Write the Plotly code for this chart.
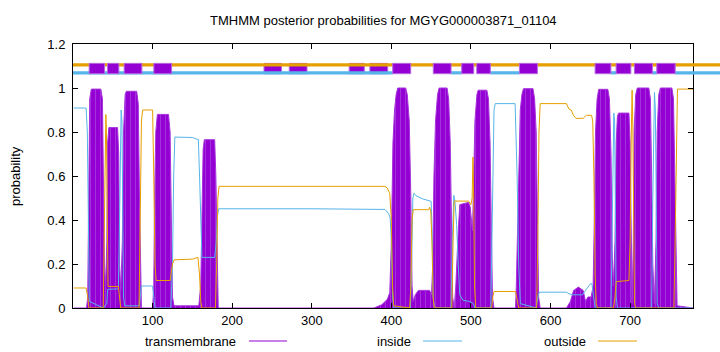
import plotly.graph_objects as go

# ---------------- data ----------------
TITLE = "TMHMM posterior probabilities for MGYG000003871_01104"
X_RANGE = [0, 779]
X_TICKS = [100, 200, 300, 400, 500, 600, 700]
Y_TICKS = [0, 0.2, 0.4, 0.6, 0.8, 1.0, 1.2]
Y_TICK_TEXT = ["0", "0.2", "0.4", "0.6", "0.8", "1", "1.2"]

# transmembrane posterior probability (residue, probability)
tm_res = [1, 17, 18.5, 19.5, 21, 23, 35, 37, 38.5, 39.5, 41,
          42.5, 43.5, 45, 56, 57.5, 58.5, 60,
          62, 63.5, 65.5, 67, 80, 82, 83.5, 85, 86, 100,
          101.5, 102.5, 104, 106, 120, 122, 123.5, 125, 127, 158,
          160.5, 162, 163.5, 165, 178, 179.5, 181, 182.5,
          378, 388, 395, 398,
          400, 402, 404, 406, 408, 418, 420, 422.5, 424.5, 426, 427.5,
          430, 434, 448, 450.5,
          452, 453.5, 455.5, 458, 460, 470, 472, 474, 475.5, 477, 479,
          481, 484, 486, 497, 499, 502, 503.5,
          505, 507.5, 509, 520, 522, 524, 525.5, 527, 529, 556,
          557, 558.5, 560, 562, 564, 566, 578, 580, 582, 583.5, 585, 587,
          620, 625, 629, 635, 641, 644, 647, 651, 653.5,
          655, 656.5, 658.5, 660.5, 672, 674, 676, 677.5, 679,
          681, 682.5, 684, 685.5, 698.5, 700, 701, 702.5,
          704, 705, 707, 709, 723.5, 725.5, 727, 728.5, 730.5,
          732.5, 734, 736, 738, 752.5, 754.5, 756, 757.5, 759, 779]
tm_prob = [0.0, 0.0, 0.05, 0.6, 0.95, 0.995, 0.995, 0.95, 0.6, 0.2, 0.1,
           0.3, 0.75, 0.82, 0.82, 0.7, 0.2, 0.08,
           0.3, 0.8, 0.97, 0.985, 0.985, 0.93, 0.5, 0.05, 0.0, 0.0,
           0.1, 0.5, 0.8, 0.88, 0.88, 0.8, 0.4, 0.05, 0.01, 0.01,
           0.1, 0.5, 0.72, 0.765, 0.765, 0.6, 0.2, 0.0,
           0.0, 0.015, 0.04, 0.07,
           0.3, 0.75, 0.9, 0.97, 1.0, 1.0, 0.97, 0.85, 0.5, 0.1, 0.03,
           0.06, 0.08, 0.08, 0.06,
           0.2, 0.6, 0.85, 0.97, 1.0, 1.0, 0.95, 0.75, 0.35, 0.05, 0.0,
           0.1, 0.35, 0.47, 0.48, 0.46, 0.35, 0.6,
           0.85, 0.97, 0.99, 0.99, 0.95, 0.75, 0.35, 0.05, 0.0, 0.0,
           0.1, 0.35, 0.7, 0.9, 0.97, 0.997, 0.997, 0.95, 0.8, 0.4, 0.05, 0.0,
           0.0, 0.03, 0.08, 0.095, 0.08, 0.03, 0.05, 0.05, 0.1,
           0.4, 0.8, 0.95, 0.994, 0.994, 0.95, 0.7, 0.25, 0.1,
           0.3, 0.75, 0.87, 0.886, 0.886, 0.75, 0.35, 0.02,
           0.3, 0.8, 0.97, 1.0, 1.0, 0.95, 0.6, 0.2, 0.02,
           0.3, 0.8, 0.97, 1.0, 1.0, 0.95, 0.6, 0.15, 0.01, 0.0]

# inside posterior probability
in_res = [1, 16.5, 18, 19.5, 20.5, 38, 42.5, 43.5, 57, 58.5, 59.5, 60.5, 61.5, 62.5,
          63.5, 65, 83, 84.5, 86, 100, 101.5, 103, 123, 125, 126.5, 128, 150,
          157.5, 159, 160.5, 162, 178, 180, 181.5, 183, 300, 392, 396.5, 398.5,
          400, 401.5, 403, 424, 425.5, 427, 428.5, 431, 440, 450, 451.5, 452.5,
          454, 475, 476.5, 477.5, 478.5, 480, 482, 484, 486, 490, 498, 503, 505,
          525, 527, 529, 530.5, 555.5, 558, 560, 562, 582, 584, 586, 620, 623,
          628, 640, 644, 650, 652, 654, 656, 676, 677.5, 678.5, 679.5, 680.5,
          681.5, 682.5, 684, 727, 728.5, 729.5, 730.6, 731.7, 732.7, 734, 736, 779]
in_prob = [0.909, 0.909, 0.8, 0.3, 0.03, 0.0, 0.02, 0.085, 0.087, 0.4, 0.85, 0.9, 0.85, 0.4,
           0.05, 0.01, 0.01, 0.05, 0.1, 0.1, 0.05, 0.0, 0.0, 0.2, 0.6, 0.777, 0.775,
           0.765, 0.6, 0.35, 0.23, 0.23, 0.3, 0.42, 0.451, 0.451, 0.448, 0.43, 0.41,
           0.3, 0.05, 0.0, 0.0, 0.2, 0.5, 0.522, 0.51, 0.495, 0.485, 0.3, 0.05,
           0.0, 0.0, 0.3, 0.5, 0.512, 0.48, 0.38, 0.2, 0.06, 0.035, 0.03, 0.02, 0.0,
           0.0, 0.5, 0.9, 0.929, 0.929, 0.6, 0.2, 0.02, 0.0, 0.05, 0.072, 0.072, 0.065,
           0.06, 0.06, 0.08, 0.11, 0.11, 0.05, 0.0, 0.0, 0.5, 0.85, 0.886, 0.85,
           0.4, 0.05, 0.0, 0.0, 0.5, 0.9, 0.98, 0.9, 0.4, 0.02, 0.0, 0.0]

# outside posterior probability
out_res = [1, 16.5, 18.5, 20, 38, 39.5, 40.5, 41.3, 42, 43, 44, 57, 58.5, 60, 83, 84.5,
           86, 87.5, 100, 101.5, 103, 104.5, 122, 125, 127, 150, 157, 159, 160.5,
           162, 179, 180.5, 182, 183.5, 392, 395, 398, 400, 401.5, 403, 423, 424.5,
           426, 427.5, 447, 448, 449.5, 451, 452.5, 454, 476, 477.5, 479, 497, 500,
           501.5, 502.5, 503.5, 504.5, 506, 526, 527.5, 529, 556, 558, 560, 582.5,
           584, 585.5, 587, 620, 623, 626, 628.8, 632, 641, 645, 651.5, 653, 654.5,
           656, 657.5, 659, 679, 681, 682.5, 698.5, 700, 701.5, 702.5, 703.5, 704.5,
           705.5, 707, 755, 756.5, 758, 759.5, 779]
out_prob = [0.091, 0.091, 0.05, 0.0, 0.0, 0.4, 0.8, 0.88, 0.8, 0.3, 0.098, 0.098, 0.03, 0.0, 0.0, 0.4,
            0.85, 0.9, 0.9, 0.6, 0.2, 0.125, 0.125, 0.2, 0.219, 0.222, 0.23, 0.15, 0.03,
            0.0, 0.0, 0.2, 0.5, 0.553, 0.553, 0.545, 0.52, 0.4, 0.1, 0.01, 0.0, 0.1,
            0.4, 0.447, 0.447, 0.458, 0.44, 0.3, 0.05, 0.0, 0.0, 0.3, 0.486, 0.486, 0.47,
            0.5, 0.686, 0.5, 0.1, 0.0, 0.0, 0.05, 0.075, 0.075, 0.03, 0.0, 0.0,
            0.3, 0.8, 0.929, 0.929, 0.905, 0.9, 0.876, 0.862, 0.862, 0.876, 0.876, 0.85, 0.6,
            0.15, 0.02, 0.0, 0.0, 0.05, 0.12, 0.125, 0.3, 0.8, 0.99, 0.8, 0.3,
            0.02, 0.0, 0.0, 0.3, 0.8, 0.995, 0.995]

# predicted topology band at the top (residue ranges)
tm_boxes_front = [(20.3, 39.7), (43.4, 57.6), (64.3, 86.5), (101.6, 123.9),
                  (401.7, 424.3), (452.7, 475), (488.4, 503.5), (507.3, 524.4),
                  (560.9, 583.5), (656, 675.8), (682.4, 700.9), (705.4, 728),
                  (733.5, 756.6)]
tm_boxes_back = [(240, 262), (271.7, 294), (347, 366), (373, 395.4)]
inside_segments = [(0, 401.7), (475, 488.4), (524.4, 560.9), (675.8, 682.4),
                   (728, 733.5), (756.6, None)]
outside_segments = [(0, None)]

# ---------------- style ----------------
PURPLE = "#9400d3"
STRIPE = "#b96ee6"
BLUE = "#56b4e9"
ORANGE = "#e69f00"
FONT = "Liberation Sans, Arial, Helvetica, sans-serif"

W, H = 720, 352
ML, MR, MT, MB = 73, 27, 44, 44
PW, PH = W - ML - MR, H - MT - MB

def xpaper(res):
    if res is None:
        return (W - ML) / PW + 0.01
    return (res - X_RANGE[0]) / (X_RANGE[1] - X_RANGE[0])

def ypaper(v):
    return v / Y_TICKS[-1]

fig = go.Figure()
fig.add_trace(go.Scatter(x=tm_res, y=tm_prob, mode="lines", fill="tozeroy",
                         fillcolor=PURPLE,
                         fillpattern=dict(shape="|", size=5, solidity=0.18,
                                          fgcolor=STRIPE, bgcolor=PURPLE),
                         line=dict(color="#a733dc", width=1),
                         name="transmembrane", hoverinfo="skip"))
fig.add_trace(go.Scatter(x=in_res, y=in_prob, mode="lines",
                         line=dict(color=BLUE, width=1), name="inside"))
fig.add_trace(go.Scatter(x=out_res, y=out_prob, mode="lines",
                         line=dict(color=ORANGE, width=1), name="outside"))

shapes = []
BOX_Y0, BOX_Y1 = 1.065, 1.112
OUT_Y, IN_Y = 1.105, 1.069
for a, b in tm_boxes_back:
    shapes.append(dict(type="rect", xref="paper", yref="paper",
                       x0=xpaper(a), x1=xpaper(b), y0=ypaper(BOX_Y0), y1=ypaper(BOX_Y1),
                       fillcolor=PURPLE, line=dict(color="#b466e4", width=1)))
for a, b in outside_segments:
    shapes.append(dict(type="line", xref="paper", yref="paper",
                       x0=xpaper(a), x1=xpaper(b), y0=ypaper(OUT_Y), y1=ypaper(OUT_Y),
                       line=dict(color=ORANGE, width=3.2)))
for a, b in inside_segments:
    shapes.append(dict(type="line", xref="paper", yref="paper",
                       x0=xpaper(a), x1=xpaper(b), y0=ypaper(IN_Y), y1=ypaper(IN_Y),
                       line=dict(color=BLUE, width=3.2)))
for a, b in tm_boxes_front:
    shapes.append(dict(type="rect", xref="paper", yref="paper",
                       x0=xpaper(a), x1=xpaper(b), y0=ypaper(BOX_Y0), y1=ypaper(BOX_Y1),
                       fillcolor=PURPLE, line=dict(color="#b466e4", width=1)))

# legend (gnuplot style: text then sample line)
legend_items = [("transmembrane", PURPLE, 238, 249, 287),
                ("inside", BLUE, 413, 423, 462),
                ("outside", ORANGE, 588, 598, 637)]
LEG_Y = 341
annotations = []
for label, col, tx, l0, l1 in legend_items:
    yy = (H - MB - LEG_Y) / PH
    annotations.append(dict(text=label, xref="paper", yref="paper",
                            x=(tx - ML) / PW, y=yy, xanchor="right", yanchor="middle",
                            showarrow=False, font=dict(family=FONT, size=13, color="black")))
    shapes.append(dict(type="line", xref="paper", yref="paper",
                       x0=(l0 - ML) / PW, x1=(l1 - ML) / PW, y0=yy, y1=yy,
                       line=dict(color=col, width=1)))

annotations.append(dict(text="probability", xref="paper", yref="paper",
                        x=(15 - ML) / PW, y=0.5, xanchor="center", yanchor="middle",
                        textangle=-90, showarrow=False,
                        font=dict(family=FONT, size=13, color="black")))
annotations.append(dict(text=TITLE, xref="paper", yref="paper",
                        x=0.5, y=(H - MB - 20) / PH, xanchor="center", yanchor="middle",
                        showarrow=False, font=dict(family=FONT, size=13, color="black")))

fig.update_layout(
    width=W, height=H, margin=dict(l=ML, r=MR, t=MT, b=MB, pad=0),
    paper_bgcolor="white", plot_bgcolor="white", showlegend=False,
    font=dict(family=FONT, size=13, color="black"),
    shapes=shapes, annotations=annotations,
    xaxis=dict(range=X_RANGE, tickvals=X_TICKS, ticks="inside", ticklen=5,
               showline=True, linecolor="black", linewidth=1, mirror="ticks",
               showgrid=False, zeroline=False, tickcolor="black"),
    yaxis=dict(range=[Y_TICKS[0], Y_TICKS[-1]], tickvals=Y_TICKS, ticktext=Y_TICK_TEXT,
               ticks="inside", ticklen=5, showline=True, linecolor="black",
               linewidth=1, mirror="ticks", showgrid=False, zeroline=False,
               tickcolor="black", ticklabelstandoff=4),
)
fig.write_html("out.html")
